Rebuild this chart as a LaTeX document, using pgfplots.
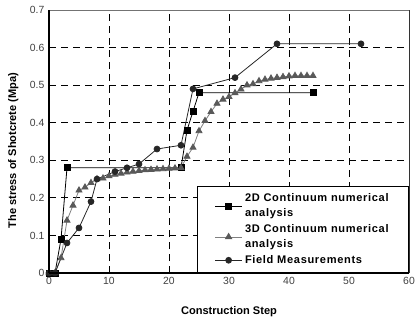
\documentclass[border=0pt]{standalone}
\usepackage{pgfplots}
\pgfplotsset{compat=1.18}
\usepackage{fontspec}
\setmainfont{Liberation Sans}
\setsansfont{Liberation Sans}
\newfontfamily\spacedfont[LetterSpace=6]{Liberation Sans}

% 2D continuum analysis
\newcommand{\twoD}{
(0,0) (1,0) (2,0.09) (3,0.28) (22,0.28) (23,0.38) (24,0.43) (25,0.48) (44,0.48)
}
% 3D continuum analysis
\newcommand{\threeD}{
(0,0) (1,0) (2,0.04) (3,0.14) (4,0.18) (5,0.22) (6,0.228) (7,0.24) (8,0.25)
(9,0.252) (10,0.258) (11,0.262) (12,0.265) (13,0.268) (14,0.27) (15,0.272)
(16,0.274) (17,0.275) (18,0.276) (19,0.277) (20,0.278) (21,0.279) (22,0.28)
(23,0.31) (24,0.334) (25,0.378) (26,0.405) (27,0.429) (28,0.451) (29,0.462)
(30,0.469) (31,0.479) (32,0.489) (33,0.5) (34,0.503) (35,0.511) (36,0.515)
(37,0.518) (38,0.52) (39,0.522) (40,0.524) (41,0.525) (42,0.525) (43,0.525) (44,0.525)
}
% field measurements
\newcommand{\field}{
(0,0) (1,0) (3,0.08) (5,0.12) (7,0.19) (8,0.25) (11,0.27) (13,0.28) (15,0.29)
(18,0.33) (22,0.34) (24,0.49) (31,0.52) (38,0.61) (52,0.61)
}

\begin{document}
\begin{tikzpicture}
\begin{axis}[
  scale only axis,
  width=270pt, height=197.25pt,
  xmin=0, xmax=60, ymin=0, ymax=0.7,
  xtick={0,10,...,60},
  ytick={0,0.1,...,0.7},
  yticklabel style={/pgf/number format/.cd, fixed, precision=1},
  /pgf/number format/assume math mode=true,
  ticklabel style={font=\fontsize{7.8pt}{9pt}\selectfont, text=black!75},
  major tick length=0pt,
  grid=major,
  major grid style={black, dash pattern=on 5.5pt off 3.5pt, line width=0.6pt},
  axis line style={draw=none},
  xlabel={\textbf{Construction Step}},
  ylabel={\textbf{The stress of Shotcrete (Mpa)}},
  label style={font=\fontsize{8.3pt}{9pt}\selectfont},
  xlabel style={at={(axis description cs:0.5,-0.148)}, anchor=center},
  ylabel style={at={(axis description cs:-0.099,0.466)}, anchor=center},
  legend style={at={(1,0)}, anchor=south east, draw=black, line width=0.6pt,
    font=\spacedfont\bfseries\fontsize{8.3pt}{11pt}\selectfont,
    cells={align=left, anchor=west}, inner xsep=13pt, inner ysep=3.5pt, row sep=0.5pt},
  legend image code/.code={
    \draw[mark repeat=2, mark phase=2, #1]
      plot coordinates {(0pt,0pt) (10pt,0pt) (20pt,0pt)};
  },
  legend cell align=left,
  clip=false,
  after end axis/.code={
    \draw[black!55, line width=0.7pt] (rel axis cs:0,1) -- (rel axis cs:1,1);
    \draw[black!80, line width=0.7pt] (rel axis cs:1,0) -- (rel axis cs:1,1);
    \draw[black, line width=1.6pt] (rel axis cs:0,0) -- (rel axis cs:0,1);
    \draw[black, line width=1.2pt] (rel axis cs:0,0) -- (rel axis cs:1,0);
  },
]
\addplot[black, line width=0.6pt, mark=square*, mark size=2.3pt,
  mark options={solid}] coordinates {\twoD};
\addlegendentry{2D Continuum numerical\\analysis}
\addplot[black!50, line width=0.6pt, mark=triangle*, mark size=2.6pt,
  mark options={solid, fill=black!65, draw=black!65}] coordinates {\threeD};
\addlegendentry{3D Continuum numerical\\analysis}
\addplot[black!85, line width=0.6pt, mark=*, mark size=2.2pt,
  mark options={solid, fill=black!85, draw=black!85}] coordinates {\field};
\addlegendentry{Field Measurements}
\end{axis}
\pgfresetboundingbox
\path[use as bounding box] (-36.75pt,-35.25pt) rectangle (275.25pt,204.75pt);
\end{tikzpicture}
\end{document}
